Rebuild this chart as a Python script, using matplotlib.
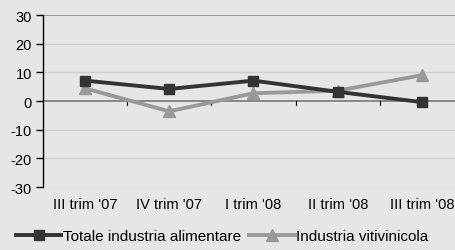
import numpy as np
import matplotlib.pyplot as plt
from matplotlib.lines import Line2D

# ------------------- Dati -------------------
trimestri = ["III trim '07", "IV trim '07", "I trim '08", "II trim '08", "III trim '08"]
totale = [7.1, 4.2, 7.1, 3.2, -0.4]
vitivinicola = [4.4, -3.6, 2.7, 3.6, 9.0]
yticks = [-30, -20, -10, 0, 10, 20, 30]

plt.rcParams['font.family'] = ['Liberation Sans Narrow', 'Liberation Sans', 'DejaVu Sans']

bg = '#e6e6e6'
fig = plt.figure(figsize=(4.56, 2.51), dpi=100, facecolor=bg)
ax = fig.add_axes([43/456, 1 - 188/251, (464 - 43)/456, (188 - 16)/251])
ax.set_facecolor(bg)

x = np.arange(len(trimestri))
ax.plot(x, totale, color='#333333', lw=2.8, marker='s', ms=7, zorder=4,
        label='Totale industria alimentare')
ax.plot(x, vitivinicola, color='#999999', lw=2.8, marker='^', ms=9, zorder=3,
        label='Industria vitivinicola')

ax.set_xlim(-0.5, len(trimestri) - 0.5)
ax.set_ylim(-30, 30)
ax.set_yticks(yticks)
ax.set_yticklabels([str(v) for v in yticks], fontsize=10.5)

# griglia
for v in yticks:
    if v == 0:
        ax.axhline(v, color='#777777', lw=1.2, zorder=2)
    elif v == 30:
        ax.axhline(v, color='#888888', lw=1.2, zorder=1)
    else:
        ax.axhline(v, color='#cfcfcf', lw=1, zorder=1)

for s in ['top', 'right', 'bottom']:
    ax.spines[s].set_visible(False)
ax.spines['left'].set_color('black')
ax.spines['left'].set_linewidth(1)
ax.tick_params(axis='y', length=5, width=1, color='black', pad=3)

# etichette categorie
ax.set_xticks([])
for i, t in enumerate(trimestri):
    ax.text(i, -36, t, ha='center', va='center', fontsize=10.5, clip_on=False)
# piccole tacche sull'asse zero
for b in np.arange(0.5, len(trimestri) - 0.5, 1):
    ax.plot([b, b], [0, -1.5], color='black', lw=0.8, zorder=2, clip_on=False)

handles = [Line2D([], [], color='#333333', lw=2.8, marker='s', ms=7),
           Line2D([], [], color='#999999', lw=2.8, marker='^', ms=8)]
fig.legend(handles, ['Totale industria alimentare', 'Industria vitivinicola'],
           loc='center', bbox_to_anchor=(222/456, 1 - 237/251), ncol=2,
           frameon=False, fontsize=11, handlelength=3.0, handletextpad=0.1,
           columnspacing=0.5)

fig.savefig('out.png', dpi=100, facecolor=bg)
